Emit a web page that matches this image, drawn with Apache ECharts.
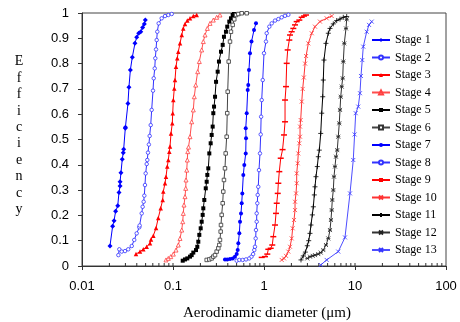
<!DOCTYPE html>
<html><head><meta charset="utf-8">
<script src="https://cdn.jsdelivr.net/npm/echarts@6/dist/echarts.min.js"></script>
<style>html,body{margin:0;padding:0;background:#fff}#c{width:460px;height:322px}</style>
</head><body><div id="c"></div>
<script>
const stageNames = ['Stage 1','Stage 2','Stage 3','Stage 4','Stage 5','Stage 6','Stage 7','Stage 8','Stage 9','Stage 10','Stage 11','Stage 12','Stage 13'];
const xTickLabels = ['0.01','0.1','1','10','100'];
const minorTickValues = [0.02,0.03,0.04,0.05,0.06,0.07,0.08,0.09,0.1,0.2,0.3,0.4,0.5,0.6,0.7,0.8,0.9,1,2,3,4,5,6,7,8,9,10,20,30,40,50,60,70,80,90];

const stage1 = [[0.0203,0.079],[0.0217,0.157],[0.0225,0.179],[0.0234,0.216],[0.0247,0.238],[0.0255,0.291],[0.0262,0.316],[0.0262,0.333],[0.0268,0.369],[0.0277,0.422],[0.0284,0.448],[0.0287,0.461],[0.0299,0.544],[0.0300,0.548],[0.0320,0.642],[0.0328,0.707],[0.0340,0.775],[0.0357,0.825],[0.0382,0.880],[0.0399,0.904],[0.0420,0.920],[0.0442,0.926],[0.0464,0.943],[0.0484,0.957],[0.0496,0.972]];
const stage2 = [[0.0251,0.043],[0.0257,0.066],[0.0273,0.057],[0.0297,0.059],[0.0322,0.066],[0.0352,0.079],[0.0375,0.103],[0.0399,0.129],[0.0426,0.153],[0.0430,0.160],[0.0453,0.208],[0.0464,0.234],[0.0476,0.254],[0.0484,0.278],[0.0492,0.320],[0.0501,0.366],[0.0514,0.403],[0.0522,0.419],[0.0531,0.448],[0.0543,0.480],[0.0554,0.514],[0.0569,0.557],[0.0583,0.617],[0.0603,0.693],[0.0614,0.742],[0.0630,0.781],[0.0639,0.821],[0.0651,0.856],[0.0662,0.893],[0.0672,0.926],[0.0696,0.959],[0.0751,0.979],[0.0817,0.988],[0.0888,0.992],[0.0968,0.996]];
const stage3 = [[0.0392,0.047],[0.0434,0.057],[0.0472,0.066],[0.0514,0.076],[0.0559,0.090],[0.0573,0.105],[0.0608,0.120],[0.0651,0.150],[0.0689,0.190],[0.0732,0.228],[0.0770,0.261],[0.0782,0.294],[0.0817,0.327],[0.0838,0.353],[0.0865,0.393],[0.0888,0.419],[0.0911,0.452],[0.0927,0.472],[0.0951,0.524],[0.0982,0.564],[0.0993,0.604],[0.1008,0.656],[0.1033,0.702],[0.1052,0.735],[0.1079,0.788],[0.1114,0.821],[0.1143,0.847],[0.1194,0.880],[0.1247,0.913],[0.1297,0.939],[0.1355,0.957],[0.1436,0.970],[0.1538,0.979],[0.1672,0.988],[0.1821,0.992]];
const stage4 = [[0.0838,0.024],[0.0888,0.030],[0.0944,0.037],[0.1008,0.047],[0.1079,0.063],[0.1143,0.083],[0.1194,0.109],[0.1247,0.142],[0.1279,0.175],[0.1297,0.208],[0.1321,0.241],[0.1355,0.274],[0.1380,0.307],[0.1390,0.340],[0.1416,0.379],[0.1436,0.419],[0.1452,0.452],[0.1480,0.470],[0.1538,0.511],[0.1604,0.570],[0.1672,0.617],[0.1714,0.669],[0.1775,0.715],[0.1867,0.768],[0.1946,0.808],[0.2066,0.854],[0.2153,0.887],[0.2249,0.913],[0.2383,0.939],[0.2553,0.959],[0.2773,0.972],[0.3020,0.983],[0.3283,0.992]];
const stage5 = [[0.1279,0.021],[0.1355,0.026],[0.1436,0.030],[0.1538,0.037],[0.1604,0.043],[0.1672,0.053],[0.1790,0.063],[0.1849,0.076],[0.1897,0.096],[0.1946,0.123],[0.2015,0.149],[0.2066,0.175],[0.2119,0.202],[0.2153,0.228],[0.2208,0.261],[0.2291,0.307],[0.2345,0.333],[0.2383,0.360],[0.2443,0.386],[0.2506,0.445],[0.2594,0.485],[0.2661,0.518],[0.2729,0.551],[0.2773,0.604],[0.2825,0.630],[0.2897,0.669],[0.2972,0.728],[0.3097,0.768],[0.3199,0.808],[0.3367,0.847],[0.3516,0.874],[0.3631,0.906],[0.3819,0.926],[0.3945,0.946],[0.4155,0.966],[0.4335,0.979],[0.4529,0.992],[0.4677,0.996]];
const stage6 = [[0.2345,0.024],[0.2506,0.026],[0.2661,0.030],[0.2773,0.037],[0.2897,0.043],[0.3020,0.057],[0.3148,0.070],[0.3227,0.083],[0.3283,0.103],[0.3340,0.136],[0.3367,0.162],[0.3426,0.202],[0.3516,0.248],[0.3570,0.294],[0.3631,0.340],[0.3725,0.386],[0.3793,0.445],[0.3890,0.511],[0.3945,0.604],[0.3990,0.689],[0.4093,0.808],[0.4231,0.887],[0.4335,0.926],[0.4529,0.953],[0.4716,0.975],[0.4924,0.992],[0.5224,0.996],[0.5689,0.999],[0.6457,0.999]];
const stage7 = [[0.3725,0.026],[0.3945,0.026],[0.4231,0.028],[0.4529,0.030],[0.4797,0.037],[0.5012,0.047],[0.5140,0.063],[0.5224,0.090],[0.5357,0.129],[0.5451,0.175],[0.5589,0.208],[0.5689,0.248],[0.5776,0.287],[0.5923,0.360],[0.6073,0.399],[0.6300,0.445],[0.6344,0.505],[0.6300,0.544],[0.6457,0.604],[0.6622,0.696],[0.6716,0.715],[0.6834,0.775],[0.7016,0.841],[0.7289,0.887],[0.7770,0.933],[0.8166,0.959]];
const stage8 = [[0.5012,0.021],[0.5357,0.024],[0.5834,0.024],[0.6344,0.026],[0.6888,0.030],[0.7289,0.037],[0.7592,0.047],[0.7822,0.063],[0.7962,0.076],[0.8100,0.109],[0.8166,0.142],[0.8313,0.175],[0.8313,0.208],[0.8443,0.248],[0.8526,0.281],[0.8652,0.313],[0.8810,0.379],[0.9037,0.445],[0.9200,0.520],[0.9300,0.590],[0.9438,0.656],[0.9683,0.735],[1.000,0.841],[1.051,0.887],[1.071,0.920],[1.144,0.946],[1.216,0.959],[1.322,0.970],[1.437,0.976],[1.565,0.983],[1.703,0.989],[1.851,0.993]];
const stage9 = [[0.9438,0.034],[1.025,0.037],[1.087,0.047],[1.115,0.066],[1.185,0.070],[1.233,0.083],[1.265,0.116],[1.322,0.162],[1.355,0.208],[1.380,0.248],[1.416,0.287],[1.437,0.327],[1.473,0.373],[1.527,0.426],[1.600,0.460],[1.660,0.518],[1.703,0.570],[1.703,0.656],[1.746,0.709],[1.776,0.801],[1.821,0.854],[1.897,0.893],[1.932,0.913],[2.015,0.926],[2.100,0.939],[2.193,0.953],[2.287,0.966],[2.444,0.972],[2.596,0.983],[2.753,0.988],[2.897,0.992]];
const stage10 = [[1.565,0.024],[1.660,0.030],[1.746,0.040],[1.851,0.057],[1.932,0.076],[2.015,0.109],[2.065,0.149],[2.136,0.182],[2.193,0.221],[2.193,0.254],[2.249,0.287],[2.287,0.327],[2.287,0.366],[2.344,0.406],[2.381,0.445],[2.444,0.485],[2.489,0.511],[2.489,0.551],[2.531,0.577],[2.600,0.650],[2.660,0.700],[2.740,0.745],[2.830,0.800],[2.900,0.830],[3.070,0.880],[3.345,0.920],[3.634,0.946],[4.121,0.966],[4.883,0.979],[5.544,0.988]];
const stage11 = [[2.550,0.024],[2.700,0.040],[2.850,0.055],[2.990,0.080],[3.100,0.100],[3.201,0.129],[3.283,0.162],[3.395,0.202],[3.483,0.234],[3.573,0.281],[3.634,0.313],[3.725,0.353],[3.852,0.393],[3.951,0.432],[4.053,0.458],[4.201,0.524],[4.308,0.604],[4.419,0.669],[4.483,0.735],[4.559,0.814],[4.797,0.880],[5.089,0.920],[5.311,0.939],[5.776,0.957],[6.291,0.970],[6.843,0.976],[7.437,0.983],[8.105,0.986]];
const stage12 = [[2.990,0.030],[3.201,0.037],[3.428,0.040],[3.634,0.043],[3.951,0.047],[4.201,0.053],[4.483,0.063],[4.797,0.083],[5.089,0.109],[5.311,0.142],[5.446,0.182],[5.544,0.221],[5.630,0.261],[5.776,0.300],[5.876,0.353],[6.026,0.393],[6.180,0.432],[6.383,0.458],[6.548,0.511],[6.717,0.564],[6.843,0.617],[6.965,0.669],[7.143,0.709],[7.325,0.742],[7.437,0.808],[7.626,0.880],[7.961,0.939],[8.105,0.975]];
const stage13 = [[4.201,0.004],[4.883,0.024],[6.548,0.057],[7.762,0.113],[8.810,0.287],[9.573,0.419],[9.900,0.520],[10.18,0.604],[10.86,0.630],[11.34,0.683],[11.63,0.751],[12.02,0.814],[12.33,0.867],[13.45,0.926],[14.26,0.953],[15.27,0.966]];

const stageData = [stage1,stage2,stage3,stage4,stage5,stage6,stage7,stage8,stage9,stage10,stage11,stage12,stage13];

const X = 'path://M0,0L10,10M10,0L0,10';
const PLUS = 'path://M5,0L5,10M0,5L10,5';
const STAR = 'path://M0,0L10,10M10,0L0,10M0,5L10,5';
const styles = [
  {c:'#0000ff', b:'#0000ff', line:'#0000ff', sym:'diamond', size:5, bw:0},
  {c:'#ffffff', b:'#3333ff', line:'#3333ff', sym:'circle', size:3.5, bw:0.8},
  {c:'#ff0000', b:'#ff0000', line:'#ff0000', sym:'triangle', size:4.5, bw:0},
  {c:'#ffffff', b:'#ff4040', line:'#ff4d4d', sym:'triangle', size:4, bw:0.8},
  {c:'#000000', b:'#000000', line:'#000000', sym:'rect', size:4, bw:0},
  {c:'#ffffff', b:'#333333', line:'#444444', sym:'rect', size:3.5, bw:0.8},
  {c:'#0000ff', b:'#0000ff', line:'#0000ff', sym:'circle', size:4, bw:0},
  {c:'#ffffff', b:'#3333ff', line:'#3333ff', sym:'circle', size:3.5, bw:0.8},
  {c:'#ff0000', b:'#ff0000', line:'#ff0000', sym:'rect', size:[6,1.5], bw:0},
  {c:'#ff3333', b:'#ff3333', line:'#ff3333', sym:X, size:4, bw:0.8},
  {c:'#000000', b:'#000000', line:'#000000', sym:PLUS, size:5, bw:0.8},
  {c:'#222222', b:'#222222', line:'#333333', sym:STAR, size:4, bw:0.8},
  {c:'#3333ff', b:'#3333ff', line:'#4d4dff', sym:X, size:4, bw:0.8}
];

const series = stageNames.map((name, i) => ({
  name: name,
  type: 'line',
  data: stageData[i],
  symbol: styles[i].sym,
  symbolSize: styles[i].size,
  showAllSymbol: true,
  lineStyle: {color: styles[i].line, width: 1},
  itemStyle: {color: styles[i].c, borderColor: styles[i].b, borderWidth: styles[i].bw},
  emphasis: {disabled: true},
  animation: false
}));

series.push({
  type: 'custom',
  name: 'ticks',
  silent: true,
  coordinateSystem: 'cartesian2d',
  data: minorTickValues.map(v => [v, 0]),
  renderItem: function (params, api) {
    const p = api.coord([api.value(0), 0]);
    return {type: 'line', shape: {x1: p[0], y1: p[1], x2: p[0], y2: p[1] - 3}, style: {stroke: '#333', lineWidth: 1}};
  },
  clip: false,
  animation: false
});

const chart = echarts.init(document.getElementById('c'), null, {renderer: 'canvas'});
chart.setOption({
  backgroundColor: '#fff',
  animation: false,
  grid: {left: 82, top: 13, right: 14, bottom: 56, show: true, borderColor: '#444', borderWidth: 1},
  legend: {
    data: stageNames,
    orient: 'vertical',
    left: 371, top: 34, padding: 0,
    itemWidth: 18, itemHeight: 5, itemGap: 5.5, itemTextGap: 4,
    textStyle: {fontFamily: 'Liberation Serif', fontSize: 12, color: '#000', lineHeight: 12},
    selectedMode: false
  },
  xAxis: {
    type: 'log', logBase: 10, min: 0.01, max: 100,
    axisLine: {lineStyle: {color: '#333', width: 1}},
    axisTick: {show: true, length: 4, lineStyle: {color: '#333'}},
    splitLine: {show: false},
    axisLabel: {
      margin: 14, color: '#000', fontFamily: 'Liberation Sans', fontSize: 13,
      formatter: function (v) { const l = Math.round(Math.log10(v)) + 2; return xTickLabels[l] !== undefined ? xTickLabels[l] : ''; }
    }
  },
  yAxis: {
    type: 'value', min: 0, max: 1, interval: 0.1,
    axisLine: {show: true, lineStyle: {color: '#333', width: 1}},
    axisTick: {show: true, length: 4, lineStyle: {color: '#333'}},
    splitLine: {show: false},
    axisLabel: {margin: 13, color: '#000', fontFamily: 'Liberation Sans', fontSize: 13,
      formatter: function (v) { return String(Math.round(v * 10) / 10); }}
  },
  graphic: [
    {type: 'text', x: 19, y: 53.5, style: {text: 'E\nf\nf\ni\nc\ni\ne\nn\nc\ny', fontFamily: 'Liberation Serif', fontSize: 14, lineHeight: 16.4, fill: '#000', align: 'center', verticalAlign: 'top'}},
    {type: 'text', x: 267, y: 313, style: {text: 'Aerodinamic diameter (\u03bcm)', fontFamily: 'Liberation Serif', fontSize: 15, fill: '#000', align: 'center', verticalAlign: 'middle'}}
  ],
  series: series
});
</script>
</body></html>
